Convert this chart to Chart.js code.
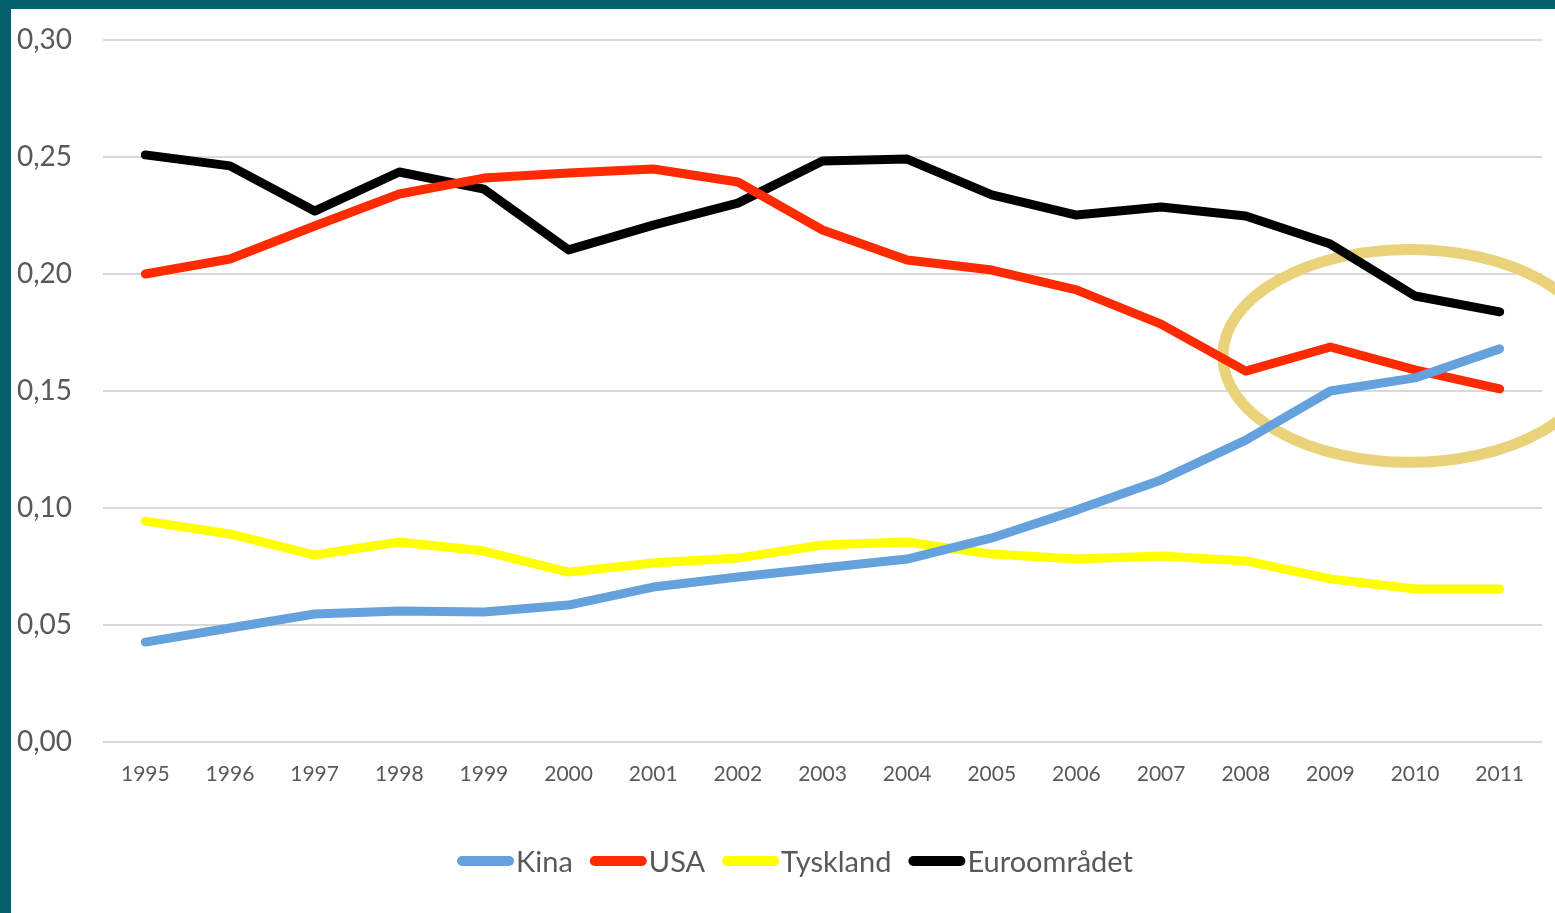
<!DOCTYPE html>
<html>
<head>
<meta charset="utf-8">
<script src="https://cdn.jsdelivr.net/npm/chart.js@4/dist/chart.umd.min.js"></script>
<style>
  html, body { margin: 0; padding: 0; background: #fff; }
  #frame { position: absolute; left: 0; top: 0; width: 1544px; height: 904px;
           border-top: 9px solid #02606D; border-left: 11px solid #02606D; background: #fff; }
  #wrap { position: relative; width: 1544px; height: 904px; }
</style>
</head>
<body>
<div id="frame"><div id="wrap"><canvas id="c"></canvas></div></div>
<script>
const years = ['1995','1996','1997','1998','1999','2000','2001','2002','2003','2004','2005','2006','2007','2008','2009','2010','2011'];
const kina = [0.0427,0.0487,0.0547,0.0560,0.0556,0.0585,0.0662,0.0705,0.0744,0.0782,0.0872,0.0991,0.1120,0.1290,0.1500,0.1556,0.1680];
const usa = [0.2000,0.2064,0.2205,0.2342,0.2410,0.2432,0.2449,0.2393,0.2188,0.2060,0.2017,0.1932,0.1786,0.1585,0.1688,0.1590,0.1509];
const tyskland = [0.0944,0.0889,0.0799,0.0855,0.0816,0.0726,0.0765,0.0786,0.0842,0.0855,0.0803,0.0782,0.0795,0.0774,0.0697,0.0654,0.0654];
const euro = [0.2509,0.2462,0.2269,0.2436,0.2363,0.2103,0.2209,0.2303,0.2483,0.2491,0.2338,0.2252,0.2286,0.2248,0.2128,0.1906,0.1838];
const seriesNames = ['Kina','USA','Tyskland','Euroområdet'];
const seriesColors = ['#65A2DD','#FF2A00','#FFFF00','#000000'];
// highlight ellipse (category index centre, value centre, half-widths)
const ellipseCenter = [14.94, 0.165];
const ellipseHalf = [2.21, 0.0455];

const txt = '#595959';
const ellipsePlugin = {
  id: 'ellipse',
  beforeDatasetsDraw(chart) {
    const x = chart.scales.x, y = chart.scales.y, ctx = chart.ctx;
    const step = x.getPixelForValue(1) - x.getPixelForValue(0);
    const cx = x.getPixelForValue(0) + ellipseCenter[0] * step;
    const cy = y.getPixelForValue(ellipseCenter[1]);
    const rx = ellipseHalf[0] * step;
    const ry = Math.abs(y.getPixelForValue(ellipseCenter[1] + ellipseHalf[1]) - cy);
    ctx.save();
    ctx.beginPath();
    ctx.ellipse(cx, cy, rx, ry, 0, 0, Math.PI * 2);
    ctx.strokeStyle = '#EAD27A';
    ctx.lineWidth = 11;
    ctx.stroke();
    ctx.restore();
  }
};

// legend drawn with the box directly touching the label, as in the original
const legendPlugin = {
  id: 'tightLegend',
  afterDraw(chart) {
    const ctx = chart.ctx;
    const font = '29px Lato';
    const boxW = 57, boxH = 10, gapText = 2, gapItem = 17;
    const centerX = 784, centerY = 853;
    ctx.save();
    ctx.font = font;
    const items = chart.data.datasets.map(ds => ({ label: ds.label, color: ds.borderColor, w: ctx.measureText(ds.label).width }));
    let total = 0;
    items.forEach((it, i) => { total += boxW + gapText + it.w + (i < items.length - 1 ? gapItem : 0); });
    let x = centerX - total / 2;
    ctx.textBaseline = 'middle';
    ctx.textAlign = 'left';
    items.forEach(it => {
      ctx.fillStyle = it.color;
      ctx.beginPath();
      ctx.roundRect(x, centerY - boxH / 2 - 1, boxW, boxH, boxH / 2);
      ctx.fill();
      x += boxW + gapText;
      ctx.fillStyle = txt;
      ctx.fillText(it.label, x, centerY + 1);
      x += it.w + gapItem;
    });
    ctx.restore();
  }
};

const data = [kina, usa, tyskland, euro];
new Chart(document.getElementById('c'), {
  type: 'line',
  data: {
    labels: years,
    datasets: data.map((d, i) => ({
      label: seriesNames[i],
      data: d,
      borderColor: seriesColors[i],
      backgroundColor: seriesColors[i],
      borderWidth: 9,
      pointRadius: 0,
      tension: 0,
      borderCapStyle: 'round',
      borderJoinStyle: 'round',
      fill: false
    }))
  },
  options: {
    responsive: true,
    maintainAspectRatio: false,
    animation: false,
    layout: { padding: { top: 31, right: 13, bottom: 74, left: 6 } },
    plugins: {
      tooltip: { enabled: false },
      legend: { display: false }
    },
    scales: {
      x: {
        offset: true,
        grid: { display: false, drawTicks: false },
        border: { display: false },
        ticks: { color: txt, font: { family: 'Lato', size: 21 }, padding: 20, maxRotation: 0 },
        afterFit(s) { s.height = 97; }
      },
      y: {
        min: 0, max: 0.30,
        grid: { color: '#D9D9D9', lineWidth: 2, drawTicks: false },
        border: { display: false },
        ticks: {
          stepSize: 0.05,
          color: txt,
          font: { family: 'Lato', size: 28 },
          crossAlign: 'far',
          padding: 0,
          callback: v => v.toFixed(2).replace('.', ',')
        },
        afterFit(s) { s.width = 86; }
      }
    }
  },
  plugins: [ellipsePlugin, legendPlugin]
});
</script>
</body>
</html>
